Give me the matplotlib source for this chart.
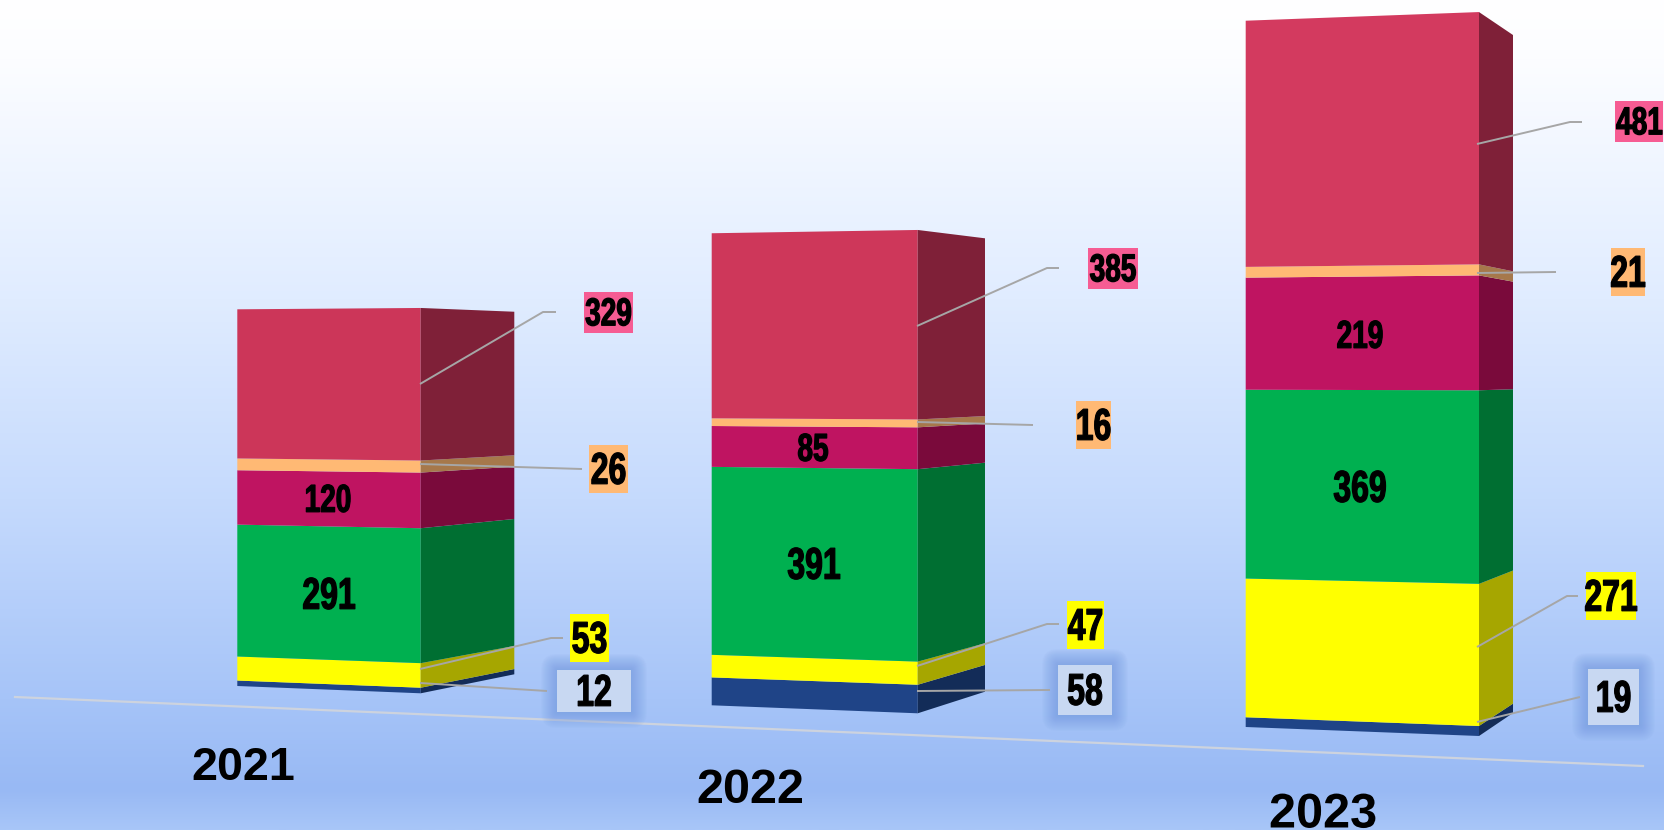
import numpy as np
import matplotlib
matplotlib.use("Agg")
import matplotlib.pyplot as plt
from matplotlib.colors import to_rgb
from matplotlib.patches import Polygon, Rectangle, FancyBboxPatch
from matplotlib.patheffects import AbstractPathEffect
from matplotlib.transforms import Affine2D

years = ["2021", "2022", "2023"]
navy = [12, 58, 19]
yellow = [53, 47, 271]
green = [291, 391, 369]
magenta = [120, 85, 219]
orange = [26, 16, 21]
red = [329, 385, 481]

series = [navy, yellow, green, magenta, orange, red]
front_colors = ["#1F4487", "#FFFF00", "#00B050", "#BF1461", "#FFB974", "#D03A5C"]
red_front = ["#CC3659", "#CE375A", "#D33A5F"]
side_colors = ["#132C58", "#A6A600", "#006F32", "#7A0A3B", "#A6784B", "#7F2038"]

# perspective of each bar: x of the three vertical edges, baseline y and px-per-unit
edge_x = [(237.3, 420.7, 514.3), (711.7, 917.7, 985.0), (1245.7, 1479.0, 1513.0)]
edge_base = [(686.0, 693.3, 674.3), (705.3, 713.3, 691.7), (727.0, 736.0, 713.0)]
edge_k = [(0.4533, 0.4637, 0.4363), (0.4807, 0.4922, 0.4617), (0.5118, 0.5246, 0.4913)]

year_pos = [(243, 763), (750, 785), (1323, 810)]
year_size = [33.6, 35.0, 35.0]
base_line = ([15, 1643], [697, 766])

# labels outside the bars: (series index, box x0, y0, x1, y1, fontsize)
out_labels = [
    [(5, 584, 292, 633, 333, 28), (4, 589, 445, 628, 493, 32), (1, 570, 614, 609, 662, 32), (0, 557, 670, 631, 712, 32)],
    [(5, 1088, 248, 1138, 289, 28), (4, 1076, 401, 1111, 449, 32), (1, 1067, 601, 1104, 649, 32), (0, 1058, 665, 1112, 715, 32)],
    [(5, 1615, 101, 1663, 142, 28), (4, 1611, 248, 1645, 296, 32), (1, 1586, 572, 1636, 620, 32), (0, 1588, 669, 1639, 725, 32)],
]
label_fill = {5: "#F65C93", 4: "#FFB974", 1: "#FFFF00", 0: "#C8D8F2"}

# labels inside the bars: (series index, x, y, fontsize)
in_labels = [
    [(3, 328, 498, 28), (2, 329, 593, 32)],
    [(3, 813, 447, 28), (2, 814, 563, 32)],
    [(3, 1360, 334, 28), (2, 1360, 486, 32)],
]

leaders = [
    [([420, 543, 556], [384, 312, 312]), ([420, 582], [464, 469]),
     ([420, 551, 563], [669, 638, 638]), ([420, 547], [683, 691])],
    [([917, 1047, 1059], [326, 268, 268]), ([917, 1033], [422, 425]),
     ([917, 1047, 1059], [666, 624, 624]), ([917, 1050], [691, 690])],
    [([1477, 1570, 1582], [144, 122, 122]), ([1477, 1556], [273, 272]),
     ([1477, 1567, 1578], [647, 596, 596]), ([1477, 1580], [722, 697])],
]

bg_y = [0, 60, 300, 500, 700, 790, 830]
bg_c = ["#FFFFFF", "#FCFDFF", "#E0ECFF", "#C5DAFD", "#A6C4F8", "#98B9F4", "#A8C6F8"]

LABEL_FONT = "Liberation Sans"


class Condense(AbstractPathEffect):
    """Squeeze glyphs horizontally about an anchor and thicken them (condensed poster look)."""

    def __init__(self, anchor_x_px, sx=0.72, stroke=0.9, dy_px=0.0):
        super().__init__()
        self.anchor = anchor_x_px
        self.sx = sx
        self.stroke = stroke
        self.dy = dy_px

    def draw_path(self, renderer, gc, tpath, affine, rgbFace=None):
        tr = (affine + Affine2D().translate(-self.anchor, 0).scale(self.sx, 1)
              .translate(self.anchor, -self.dy))
        gc0 = renderer.new_gc()
        gc0.copy_properties(gc)
        if self.stroke:
            gc0.set_linewidth(self.stroke)
            gc0.set_foreground("black")
        else:
            gc0.set_linewidth(0)
        renderer.draw_path(gc0, tpath, tr, rgbFace)
        gc0.restore()


fig = plt.figure(figsize=(16.65, 8.30), dpi=100)
ax = fig.add_axes([0, 0, 1, 1])
ax.set_xlim(0, 1665)
ax.set_ylim(830, 0)
ax.axis("off")

rows = np.arange(0, 831)
rgb = np.array([to_rgb(c) for c in bg_c])
grad = np.stack([np.interp(rows, bg_y, rgb[:, i]) for i in range(3)], axis=1)[:, None, :]
ax.imshow(grad, extent=(0, 1665, 830, 0), aspect="auto", zorder=0)
ax.set_xlim(0, 1665)
ax.set_ylim(830, 0)

ax.plot(base_line[0], base_line[1], color="#CDD3DE", lw=1.6, zorder=1)


def py(b, e, v):
    return edge_base[b][e] - edge_k[b][e] * v


def digit_label(x, cy, value, fs, ha="center"):
    em_px = fs * 100 / 72
    t = ax.text(x, cy + 0.355 * em_px, str(value), ha=ha, va="baseline",
                family=LABEL_FONT, weight="bold", fontsize=fs, color="black", zorder=6)
    t.set_path_effects([Condense(ax.transData.transform((x, 0))[0])])
    return t


for b in range(len(years)):
    lo = 0
    xl, xm, xr = edge_x[b]
    for s, vals in enumerate(series):
        hi = lo + vals[b]
        fc = red_front[b] if s == 5 else front_colors[s]
        ax.add_patch(Polygon([(xl, py(b, 0, lo)), (xm, py(b, 1, lo)), (xm, py(b, 1, hi)), (xl, py(b, 0, hi))],
                             closed=True, fc=fc, ec="none", zorder=3))
        ax.add_patch(Polygon([(xm, py(b, 1, lo)), (xr, py(b, 2, lo)), (xr, py(b, 2, hi)), (xm, py(b, 1, hi))],
                             closed=True, fc=side_colors[s], ec="none", zorder=3))
        lo = hi

    for lx, ly in leaders[b]:
        ax.plot(lx, ly, color="#A6A6A6", lw=1.4, zorder=4, solid_capstyle="butt")

    for s, x0, y0, x1, y1, fs in out_labels[b]:
        if s == 0:
            for pad in range(1, 17):
                ax.add_patch(FancyBboxPatch((x0, y0), x1 - x0, y1 - y0,
                                            boxstyle=f"round,pad={pad},rounding_size={pad}",
                                            fc="#6E94DC", ec="none", alpha=0.045, zorder=2))
        ax.add_patch(Rectangle((x0, y0), x1 - x0, y1 - y0, fc=label_fill[s], ec="none", zorder=5))
        if x1 > 1660:
            digit_label(x1, (y0 + y1) / 2 - 1, series[s][b], fs, ha="right")
        else:
            digit_label((x0 + x1) / 2, (y0 + y1) / 2 - 1, series[s][b], fs)

    for s, x, y, fs in in_labels[b]:
        digit_label(x, y, series[s][b], fs)

    lift = 9 if b == 2 else 0
    yt = ax.text(year_pos[b][0], year_pos[b][1] - lift, years[b], ha="center", va="center_baseline",
                 family="Liberation Sans", weight="bold", fontsize=year_size[b], color="black", zorder=6)
    if lift:
        yt.set_path_effects([Condense(ax.transData.transform((year_pos[b][0], 0))[0], sx=1.0, stroke=0, dy_px=lift)])

fig.savefig("out.png", dpi=100)
